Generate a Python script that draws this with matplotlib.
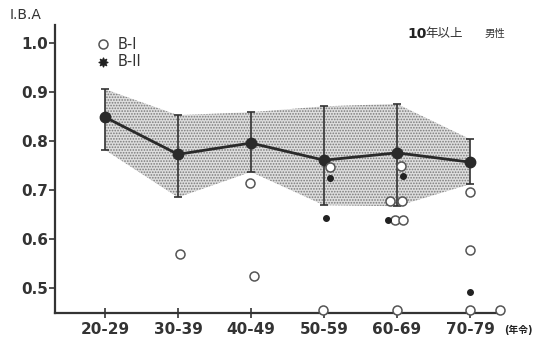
import numpy as np
import matplotlib.pyplot as plt

plt.rcParams['font.family'] = ['DejaVu Sans', 'Noto Sans CJK JP']
plt.rcParams['hatch.linewidth'] = 0.8

grupos = ["20-29", "30-39", "40-49", "50-59", "60-69", "70-79"]
media = [0.849, 0.773, 0.796, 0.761, 0.776, 0.757]
sup = [0.906, 0.853, 0.859, 0.871, 0.876, 0.804]
inf = [0.782, 0.685, 0.737, 0.669, 0.667, 0.712]

# B-I (círculos abiertos): grupo, valor
b1_grupo = [1, 2, 2, 3, 3, 4, 4, 4, 4, 4, 4, 5, 5, 5, 5]
b1_valor = [0.570, 0.714, 0.524, 0.747, 0.455, 0.749, 0.678, 0.678, 0.639,
            0.639, 0.455, 0.696, 0.578, 0.455, 0.455]
b1_dx = [0.03, -0.02, 0.04, 0.08, -0.01, 0.05, -0.10, 0.07, -0.03,
         0.08, 0.0, 0.0, 0.0, 0.0, 0.41]

# B-II (puntos negros)
b2_grupo = [3, 3, 4, 4, 5]
b2_valor = [0.724, 0.643, 0.728, 0.639, 0.492]
b2_dx = [0.08, 0.03, 0.08, -0.12, 0.0]

x = np.arange(len(grupos))

fig = plt.figure(figsize=(5.49, 3.39), dpi=100)
ax = fig.add_axes([0.100, 0.077, 0.816, 0.849])

ax.fill_between(x, inf, sup, facecolor="#dedede", edgecolor="#7a7a7a",
                hatch="......", lw=0, zorder=1)

ax.errorbar(x, media, yerr=[np.array(media) - np.array(inf), np.array(sup) - np.array(media)],
            fmt="none", ecolor="#333333", elinewidth=1.2, capsize=3, capthick=1.2, zorder=3)
ax.plot(x, media, color="#2a2a2a", lw=2, marker="o", ms=7.5, zorder=4)

ax.scatter(np.array(b1_grupo) + np.array(b1_dx), b1_valor, s=42, facecolors="white",
           edgecolors="#555555", linewidths=1.1, zorder=5, clip_on=False)
ax.scatter(np.array(b2_grupo) + np.array(b2_dx), b2_valor, s=16, color="#222222", zorder=6)

ax.set_xlim(-0.685, 5.45)
ax.set_ylim(0.449, 1.037)
ax.set_xticks(x)
ax.set_xticklabels(grupos, fontsize=11, fontweight="bold", color="#333333")
ax.set_yticks([0.5, 0.6, 0.7, 0.8, 0.9, 1.0])
ax.set_yticklabels(["0.5", "0.6", "0.7", "0.8", "0.9", "1.0"], fontsize=11,
                   fontweight="bold", color="#333333")
ax.tick_params(axis="y", direction="out", length=4, width=1.2, color="#333333", pad=1)
ax.tick_params(axis="x", direction="inout", length=7, width=1.2, color="#333333", pad=3)

for s in ["top", "right"]:
    ax.spines[s].set_visible(False)
for s in ["left", "bottom"]:
    ax.spines[s].set_linewidth(1.6)
    ax.spines[s].set_color("#333333")

# leyenda
ax.scatter([-0.03], [0.998], s=42, facecolors="white", edgecolors="#555555", linewidths=1.1)
ax.text(0.17, 0.998, "B-I", fontsize=10.5, va="center", color="#333333")
ax.scatter([-0.03], [0.962], s=40, marker=(8, 1, 0), color="#222222")
ax.text(0.17, 0.962, "B-II", fontsize=10.5, va="center", color="#333333")

fig.text(0.018, 0.955, "I.B.A", fontsize=10, color="#333333", va="center")
fig.text(0.742, 0.900, "10", fontsize=10, fontweight="bold", color="#222222", va="center")
fig.text(0.775, 0.900, "年以上", fontsize=9, color="#333333", va="center")
fig.text(0.882, 0.900, "男性", fontsize=7.5, color="#333333", va="center")
fig.text(0.918, 0.027, "(年令)", fontsize=7, fontweight="bold", color="#222222", va="center")

plt.savefig("out.png", dpi=100)
